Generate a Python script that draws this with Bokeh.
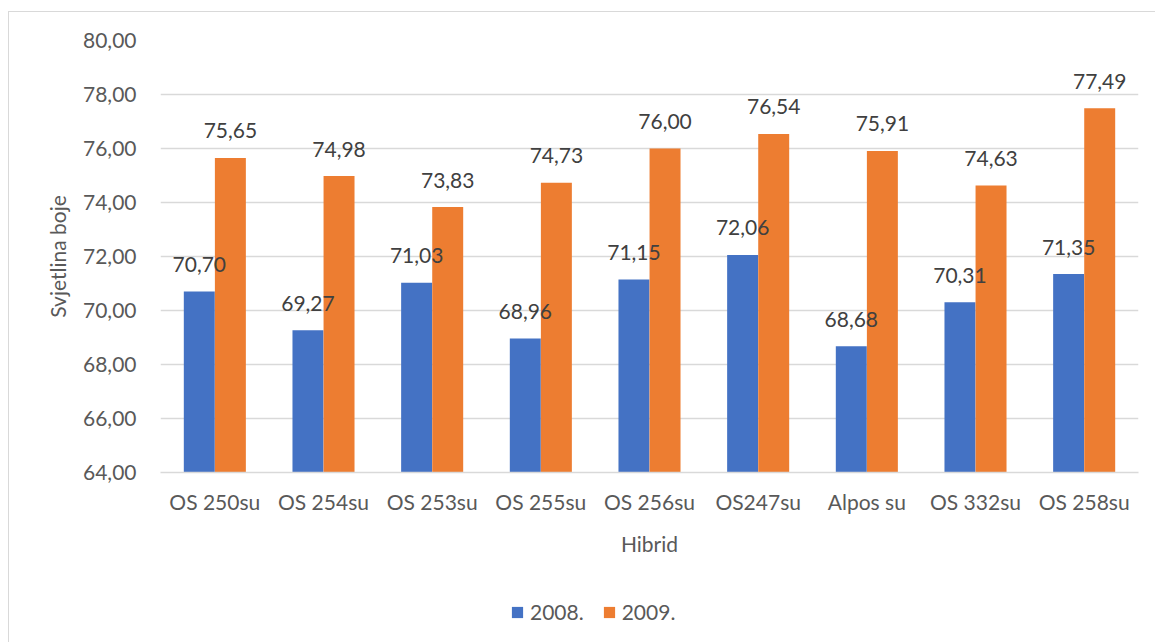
from bokeh.plotting import figure
from bokeh.layouts import column
from bokeh.models import ColumnDataSource, FactorRange, Range1d, Legend, LegendItem, CustomJSTickFormatter, FixedTicker
from bokeh.transform import dodge
from bokeh.core.properties import value
from bokeh.embed import file_html
from bokeh.resources import INLINE

categories = ["OS 250su", "OS 254su", "OS 253su", "OS 255su", "OS 256su", "OS247su", "Alpos su", "OS 332su", "OS 258su"]
values_2008 = [70.70, 69.27, 71.03, 68.96, 71.15, 72.06, 68.68, 70.31, 71.35]
values_2009 = [75.65, 74.98, 73.83, 74.73, 76.00, 76.54, 75.91, 74.63, 77.49]
series_names = ["2008.", "2009."]
y_ticks = [64, 66, 68, 70, 72, 74, 76, 78, 80]

FONT = "Lato"
BLUE = "#4472C4"
ORANGE = "#ED7D31"
GRID = "#d9d9d9"
TXT = "#595959"
LBL = "#404040"

def fmt(v):
    return f"{v:.2f}".replace(".", ",")

src = ColumnDataSource(dict(
    cat=categories,
    y08=values_2008,
    y09=values_2009,
    l08=[fmt(v) for v in values_2008],
    l09=[fmt(v) for v in values_2009],
))

W = 1146
p = figure(
    x_range=FactorRange(*categories, range_padding=0),
    y_range=Range1d(64, 80),
    width=W, height=560,
    output_backend="svg", toolbar_location=None,
    min_border_left=151, min_border_right=17, min_border_top=28, min_border_bottom=100,
)
p.outline_line_color = None
p.background_fill_color = "white"
p.border_fill_color = "white"

off = 0.143
bw = 0.285
r08 = p.vbar(x=dodge("cat", -off, range=p.x_range), top="y08", bottom=64, width=bw, source=src, color=BLUE, line_color=None)
r09 = p.vbar(x=dodge("cat", off, range=p.x_range), top="y09", bottom=64, width=bw, source=src, color=ORANGE, line_color=None)

for col, lab, d in (("y08", "l08", -off), ("y09", "l09", off)):
    p.text(x=dodge("cat", d, range=p.x_range), y=col, text=lab, source=src,
           text_align="center", text_baseline="alphabetic", y_offset=-27,
           text_font=value(FONT), text_font_size="21px", text_color=LBL)

p.xgrid.grid_line_color = None
p.ygrid.grid_line_color = GRID
p.ygrid.grid_line_width = 1.3

p.yaxis.ticker = FixedTicker(ticks=y_ticks)
p.yaxis.formatter = CustomJSTickFormatter(code="return tick.toFixed(2).replace('.', ',');")
p.yaxis.axis_line_color = None
p.yaxis.major_tick_line_color = None
p.yaxis.minor_tick_line_color = None
p.yaxis.major_label_standoff = 18
p.yaxis.axis_label = "Svjetlina boje"
p.yaxis.axis_label_standoff = 10

p.xaxis.axis_line_color = GRID
p.xaxis.axis_line_width = 1.5
p.xaxis.major_tick_line_color = None
p.xaxis.minor_tick_line_color = None
p.xaxis.major_label_standoff = 10
p.xaxis.axis_label = "Hibrid"
p.xaxis.axis_label_standoff = 14

for ax in (p.xaxis, p.yaxis):
    ax.major_label_text_font = FONT
    ax.major_label_text_font_size = "21px"
    ax.major_label_text_color = TXT
    ax.axis_label_text_font = FONT
    ax.axis_label_text_font_size = "21px"
    ax.axis_label_text_font_style = "normal"
    ax.axis_label_text_color = TXT

# legend strip (separate figure so the legend can sit centred on the chart area, not the plot frame)
lf = figure(width=W, height=70, x_range=(0, 1), y_range=(0, 1),
            output_backend="svg", toolbar_location=None,
            min_border_left=0, min_border_right=0, min_border_top=0, min_border_bottom=0)
lf.axis.visible = False
lf.grid.grid_line_color = None
lf.outline_line_color = None
lf.background_fill_color = "white"
lf.border_fill_color = "white"
dummy = ColumnDataSource(dict(x=[-10], top=[-10]))
d08 = lf.vbar(x="x", top="top", bottom=-11, width=0.1, source=dummy, color=BLUE, line_color=None)
d09 = lf.vbar(x="x", top="top", bottom=-11, width=0.1, source=dummy, color=ORANGE, line_color=None)
legend = Legend(items=[LegendItem(label=series_names[0], renderers=[d08]),
                       LegendItem(label=series_names[1], renderers=[d09])],
                orientation="horizontal", location=(350, 18),
                glyph_width=14, glyph_height=14, label_standoff=6, spacing=18,
                padding=0, margin=0, border_line_color=None, background_fill_alpha=0,
                label_text_font=FONT, label_text_font_size="21px", label_text_color=TXT)
lf.add_layout(legend, "center")

layout = column(p, lf, spacing=0,
                styles={"border-left": "1px solid #d9d9d9", "border-top": "1px solid #d9d9d9",
                        "margin-left": "8px", "margin-top": "11px"})

open("out.html", "w").write(file_html(layout, INLINE))
